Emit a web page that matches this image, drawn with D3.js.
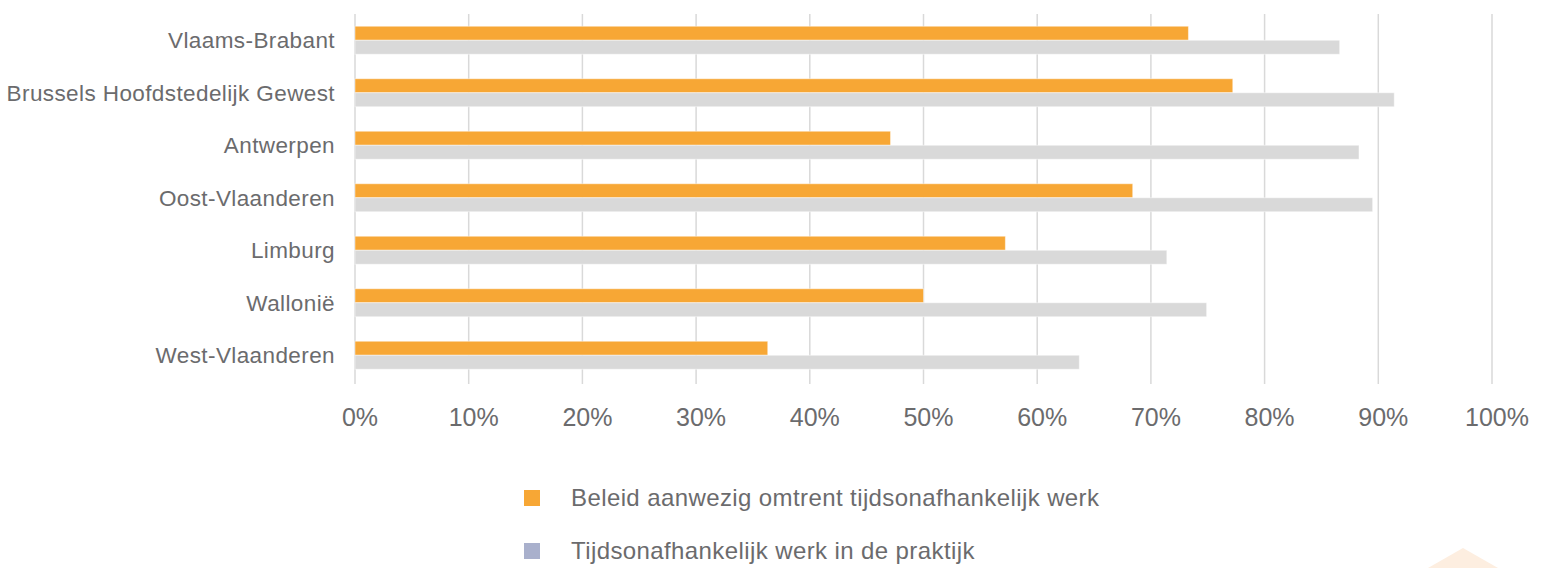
<!DOCTYPE html>
<html>
<head>
<meta charset="utf-8">
<title>Tijdsonafhankelijk werk per provincie</title>
<script src="https://d3js.org/d3.v7.min.js"></script>
<style>
  html, body { margin: 0; padding: 0; background: #fff; }
  svg text { font-family: "Liberation Sans", Arial, sans-serif; fill: #6b6b6d; }
</style>
</head>
<body>
<script>
// data
const categories = ["Vlaams-Brabant", "Brussels Hoofdstedelijk Gewest", "Antwerpen",
  "Oost-Vlaanderen", "Limburg", "Wallonië", "West-Vlaanderen"];
const beleid = [0.733, 0.772, 0.471, 0.684, 0.572, 0.500, 0.363];
const praktijk = [0.866, 0.914, 0.883, 0.895, 0.714, 0.749, 0.637];
const seriesNames = ["Beleid aanwezig omtrent tijdsonafhankelijk werk",
  "Tijdsonafhankelijk werk in de praktijk"];
const tickValues = [0, 0.1, 0.2, 0.3, 0.4, 0.5, 0.6, 0.7, 0.8, 0.9, 1];

const width = 1542, height = 568;
const plotLeft = 355, plotRight = 1492, plotTop = 14, plotBottom = 381.5;
const barColors = ["#f7a735", "#d9d9d9"];
const legendColors = ["#f7a735", "#a9b0cc"];

const svg = d3.select("body").append("svg")
  .attr("width", width).attr("height", height);

// faint decoration bottom right
svg.append("path")
  .attr("d", "M1428,568 L1463,548 L1498,568 Z")
  .attr("fill", "#fdeee0");

const x = d3.scaleLinear().domain([0, 1]).range([plotLeft, plotRight]);
const y = d3.scaleBand().domain(categories).range([plotTop, plotBottom])
  .paddingInner(0.4667).paddingOuter(0.2333);
const ySub = d3.scaleBand().domain([0, 1]).range([0, y.bandwidth()]);

// gridlines + axis line
svg.append("g").selectAll("line")
  .data(tickValues)
  .join("line")
  .attr("x1", d => x(d)).attr("x2", d => x(d))
  .attr("y1", plotTop).attr("y2", 384)
  .attr("stroke", "#d9d9d9")
  .attr("stroke-width", 1.5);

// bars
const rows = categories.map((c, i) => ({ cat: c, vals: [beleid[i], praktijk[i]] }));
const g = svg.append("g").selectAll("g")
  .data(rows)
  .join("g")
  .attr("transform", d => `translate(0,${y(d.cat)})`);

g.selectAll("rect")
  .data(d => d.vals.map((v, k) => ({ v, k })))
  .join("rect")
  .attr("x", x(0))
  .attr("y", d => ySub(d.k))
  .attr("width", d => x(d.v) - x(0))
  .attr("height", ySub.bandwidth())
  .attr("fill", d => barColors[d.k])
  .attr("stroke", "#ffffff")
  .attr("stroke-opacity", 0.45)
  .attr("stroke-width", 1);

// category labels
svg.append("g").selectAll("text")
  .data(categories)
  .join("text")
  .attr("x", 335)
  .attr("y", d => y(d) + y.bandwidth() / 2)
  .attr("dy", "0.35em")
  .attr("text-anchor", "end")
  .attr("font-size", 22.5)
  .attr("letter-spacing", 0.4)
  .text(d => d);

// x tick labels (slightly right of the gridlines, as in the original)
svg.append("g").selectAll("text")
  .data(tickValues)
  .join("text")
  .attr("x", d => x(d) + 5)
  .attr("y", 417)
  .attr("dy", "0.35em")
  .attr("text-anchor", "middle")
  .attr("font-size", 25)
  .text(d => d3.format(".0%")(d));

// legend
const leg = svg.append("g").selectAll("g")
  .data(seriesNames)
  .join("g")
  .attr("transform", (d, i) => `translate(524,${498 + i * 53})`);

leg.append("rect")
  .attr("x", 0).attr("y", -8)
  .attr("width", 16).attr("height", 16)
  .attr("fill", (d, i) => legendColors[i]);

leg.append("text")
  .attr("x", 47)
  .attr("dy", "0.35em")
  .attr("font-size", 24)
  .attr("letter-spacing", 0.4)
  .text(d => d);
</script>
</body>
</html>
